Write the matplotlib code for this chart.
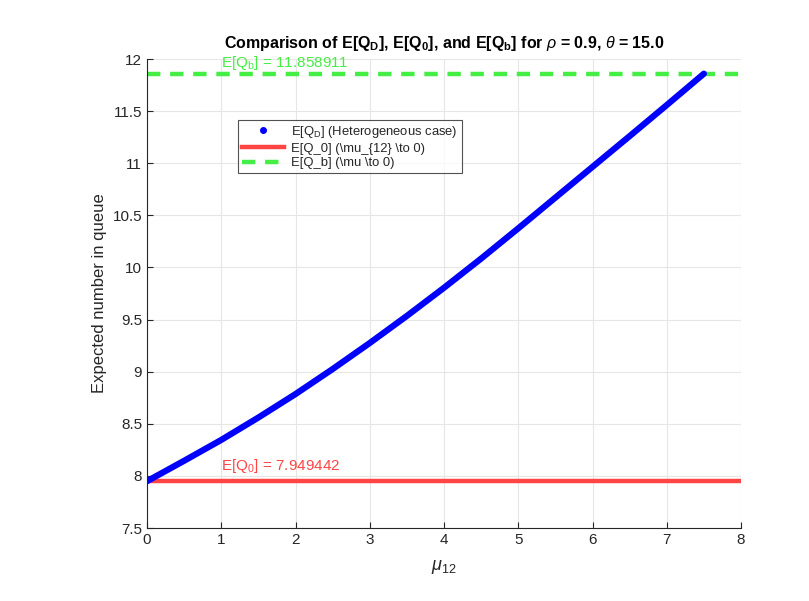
import matplotlib
matplotlib.use("Agg")
import matplotlib.pyplot as plt
from matplotlib.lines import Line2D

plt.rcParams['font.family'] = ['Liberation Sans', 'DejaVu Sans']
plt.rcParams['mathtext.fontset'] = 'custom'
plt.rcParams['mathtext.rm'] = 'Liberation Sans'
plt.rcParams['mathtext.it'] = 'Liberation Sans:italic'
plt.rcParams['mathtext.bf'] = 'Liberation Sans:bold'

# Data
mu12 = [0.0, 0.5, 1.0, 1.5, 2.0, 2.5, 3.0, 3.5, 4.0, 4.5, 5.0, 5.5, 6.0, 6.5, 7.0, 7.5]
EQD = [7.949, 8.145, 8.345, 8.56, 8.785, 9.025, 9.275, 9.535, 9.805, 10.085,
       10.375, 10.67, 10.965, 11.26, 11.558, 11.859]
EQ0 = 7.949442
EQb = 11.858911
xticks = [0, 1, 2, 3, 4, 5, 6, 7, 8]
yticks = [7.5, 8, 8.5, 9, 9.5, 10, 10.5, 11, 11.5, 12]

blue = '#0000FF'
red = '#FF4444'
green = '#44EE44'
txt = '#262626'

fig = plt.figure(figsize=(8.09, 6.01), dpi=100)
ax = fig.add_axes([147/809, 1-528/601, (741-147)/809, (528-59)/601])

ax.axhline(EQ0, color=red, lw=3.2, zorder=2)
ax.axhline(EQb, color=green, lw=3.2, ls=(0, (3, 2.2)), zorder=2)
ax.plot(mu12, EQD, color=blue, lw=4.5, solid_capstyle='round', solid_joinstyle='round', zorder=3)

ax.text(1.0, EQ0 + 0.06, r'E[Q$_0$] = 7.949442', color=red, fontsize=11, va='bottom', ha='left')
ax.text(1.0, EQb + 0.02, r'E[Q$_\mathrm{b}$] = 11.858911', color=green, fontsize=11, va='bottom', ha='left')

ax.set_xlim(0, 8)
ax.set_ylim(7.5, 12)
ax.set_xticks(xticks)
ax.set_yticks(yticks)
ax.set_yticklabels([('%g' % v) for v in yticks])
ax.grid(True, color='#e6e6e6', lw=0.8)
ax.set_axisbelow(True)
for s in ['top', 'right']:
    ax.spines[s].set_visible(False)
for s in ['left', 'bottom']:
    ax.spines[s].set_color('#262626')
    ax.spines[s].set_linewidth(0.8)
ax.tick_params(direction='in', length=4, colors=txt, labelsize=11, width=0.8)

ax.set_xlabel(r'$\mu_{\mathrm{12}}$', fontsize=13, color=txt, labelpad=8)
ax.set_ylabel('Expected number in queue', fontsize=12, color=txt)
ax.set_title(r'Comparison of E[Q$_\mathbf{D}$], E[Q$_\mathbf{0}$], and E[Q$_\mathbf{b}$] for $\rho$ = 0.9, $\theta$ = 15.0',
             fontsize=11.5, fontweight='bold', color='black', pad=8)

handles = [
    Line2D([], [], color=blue, marker='.', ls='none', markersize=8),
    Line2D([], [], color=red, lw=3.2),
    Line2D([], [], color=green, lw=3.2, ls=(0, (3, 2.2))),
]
labels = [r'E[Q$_\mathrm{D}$] (Heterogeneous case)',
          r'E[Q_0] (\mu_{12} \to 0)',
          r'E[Q_b] (\mu \to 0)']
leg = ax.legend(handles, labels, loc='upper left', bbox_to_anchor=(0.153, 0.87),
                fontsize=9.4, frameon=True, fancybox=False, edgecolor='#262626',
                borderpad=0.3, labelspacing=0.2, handlelength=3.2, handletextpad=0.6,
                borderaxespad=0)
leg.get_frame().set_linewidth(0.8)
for t in leg.get_texts():
    t.set_color(txt)

fig.savefig('out.png', dpi=100)
